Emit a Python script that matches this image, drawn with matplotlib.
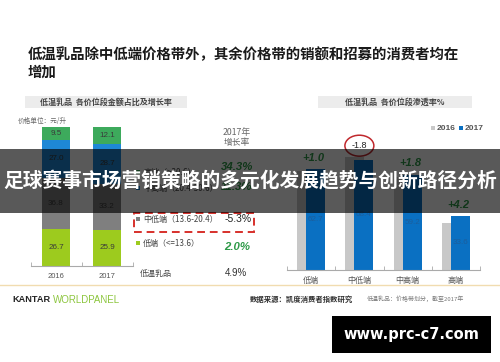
import matplotlib.pyplot as plt
from matplotlib.patches import Rectangle, Ellipse
from matplotlib.lines import Line2D
from matplotlib import transforms
import numpy as np

plt.rcParams['font.family'] = ['Noto Sans CJK SC', 'DejaVu Sans']

W, H = 500, 362

# left chart: share of sales by price band (bottom -> top)
years = ['2016', '2017']
share_2016 = [26.7, 36.8, 27.0, 9.5]
share_2017 = [25.9, 33.2, 28.7, 12.1]
tier_legend = ['低端（<=13.6）', '中低端（13.6-20.4）', '中高端（20.4-30.6）', '高端（>30.6）']
growth_2017 = ['2.0%', '-5.3%', '11.3%', '34.3%']
growth_total = '4.9%'

# right chart: penetration by price band
tiers = ['低端', '中低端', '中高端', '高端']
pen_2016 = [61.7, 70.2, 57.4, 29.4]
pen_2017 = [62.7, 68.4, 59.2, 33.6]
pen_change = ['+1.0', '-1.8', '+1.8', '+4.2']

tier_colors = ['#9dcb1e', '#7f7f7f', '#1e88d6', '#3daa5c']
green_txt = '#2e9a48'
latin = 'Liberation Sans'


def fx(x):
    return x / W


def fy(y):
    return 1 - y / H


def box(x0, y0, x1, y1, **kw):
    r = Rectangle((fx(x0), fy(y1)), (x1 - x0) / W, (y1 - y0) / H,
                  transform=fig.transFigure, **kw)
    fig.add_artist(r)
    return r


fig = plt.figure(figsize=(5, 3.62), dpi=100)
fig.patch.set_facecolor('white')

# headline
fig.text(fx(28), fy(55), '低温乳品除中低端价格带外，其余价格带的销额和招募的消费者均在',
         fontsize=10.4, fontweight='bold', va='center', color='#1a1a1a')
fig.text(fx(28), fy(73), '增加', fontsize=10.4, fontweight='bold', va='center', color='#1a1a1a')

# ---- left chart ----
box(25, 96, 187, 108, facecolor='#ececec', edgecolor='none')
fig.text(fx(106), fy(102), '低温乳品  各价位段金额占比及增长率', fontsize=5.8,
         fontweight='bold', color='#444', ha='center', va='center')
fig.text(fx(18), fy(121), '价格单位：元/升', fontsize=4.8, color='#666', va='center')

axl = fig.add_axes([fx(30.5), fy(266), 102 / W, 139 / H])
xl = np.arange(len(years))
bottom = np.zeros(len(years))
for i in range(4):
    vals = np.array([share_2016[i], share_2017[i]])
    axl.bar(xl, vals, bottom=bottom, width=0.55, color=tier_colors[i])
    for x, b, v in zip(xl, bottom, vals):
        axl.text(x, b + v / 2, f'{v:.1f}', ha='center', va='center',
                 fontsize=5.8, color='#3a3a3a', family=latin)
    bottom += vals
axl.set_xlim(-0.5, 1.5)
axl.set_ylim(0, 100)
for s in ['top', 'left', 'right']:
    axl.spines[s].set_visible(False)
axl.spines['bottom'].set_color('#aaaaaa')
axl.spines['bottom'].set_linewidth(0.8)
axl.set_yticks([])
axl.set_xticks(xl)
axl.set_xticklabels(years, fontsize=5.5, color='#555', family=latin)
axl.tick_params(axis='x', which='major', length=0, pad=5)
axl.set_xticks([-0.5, 0.5, 1.5], minor=True)
axl.tick_params(axis='x', which='minor', length=3, direction='in', color='#aaaaaa')
axl.patch.set_alpha(0)

# legend + growth column
fig.text(fx(237), fy(133), '2017年', fontsize=6.3, color='#666', ha='center', va='center')
fig.text(fx(237), fy(143), '增长率', fontsize=6.3, color='#666', ha='center', va='center')
leg_y = [243, 219, 188, 172]
gr_y = [247, 219, 187, 167]
for i in range(4):
    box(136, leg_y[i] - 2, 140, leg_y[i] + 2, facecolor=tier_colors[i], edgecolor='none')
    fig.text(fx(143), fy(leg_y[i]), tier_legend[i], fontsize=5.8, color='#444', va='center')
    if growth_2017[i].startswith('-'):
        fig.text(fx(238), fy(gr_y[i]), growth_2017[i], fontsize=7.5, color='#222',
                 ha='center', va='center', family=latin)
    else:
        fig.text(fx(237), fy(gr_y[i]), growth_2017[i], fontsize=8.2, color=green_txt,
                 ha='center', va='center', family=latin, fontweight='bold', style='italic')
box(134, 213, 254, 232, facecolor='none', edgecolor='#d7302b', linewidth=1.4,
    linestyle=(0, (4, 2.5)))
fig.text(fx(140), fy(273), '低温乳品', fontsize=5.8, color='#444', va='center')
fig.text(fx(236), fy(273), growth_total, fontsize=7, color='#333', ha='center',
         va='center', family=latin)

# ---- right chart ----
box(318, 96, 472, 108, facecolor='#ececec', edgecolor='none')
fig.text(fx(395), fy(102), '低温乳品  各价位段渗透率%', fontsize=5.8,
         fontweight='bold', color='#444', ha='center', va='center')
box(431, 126, 435, 130, facecolor='#c8c8c8', edgecolor='none')
fig.text(fx(437), fy(128), '2016', fontsize=6, color='#555', va='center',
         family=latin, fontweight='bold')
box(459, 126, 463, 130, facecolor='#0a70c2', edgecolor='none')
fig.text(fx(465), fy(128), '2017', fontsize=6, color='#555', va='center',
         family=latin, fontweight='bold')

axr = fig.add_axes([fx(287), fy(270), 193 / W, 129 / H])
xr = np.arange(len(tiers))
off, bw = 0.093, 0.393
axr.bar(xr - off, pen_2016, width=bw, color='#c8c8c8')
axr.bar(xr + off, pen_2017, width=bw, color='#0a70c2')
for x, v in zip(xr, pen_2017):
    axr.text(x + off, v / 2, f'{v:.1f}', ha='center', va='center', fontsize=5.8,
             color='#1c5e9c', family=latin)
for x, a, b, lab in zip(xr, pen_2016, pen_2017, pen_change):
    top = max(a, b)
    if lab.startswith('-'):
        axr.annotate(lab, (x, top), xytext=(0, 8), textcoords='offset points',
                     ha='center', va='center', fontsize=6.5, color='#222',
                     family=latin, annotation_clip=False)
        tr = transforms.offset_copy(axr.transData, fig=fig, x=0, y=8, units='points')
        axr.add_patch(Ellipse((x, top), 0.6, 13, transform=tr, fill=False,
                              edgecolor='#c0282d', linewidth=1.1, clip_on=False))
    else:
        axr.annotate(lab, (x + 0.05, top), xytext=(0, 8), textcoords='offset points',
                     ha='center', va='center', fontsize=8, color=green_txt,
                     family=latin, fontweight='bold', style='italic',
                     annotation_clip=False)
axr.set_xlim(-0.5, 3.5)
axr.set_ylim(0, 80)
for s in ['top', 'left', 'right']:
    axr.spines[s].set_visible(False)
axr.spines['bottom'].set_color('#aaaaaa')
axr.spines['bottom'].set_linewidth(0.8)
axr.set_yticks([])
axr.set_xticks(xr)
axr.set_xticklabels(tiers, fontsize=5.8, color='#555')
axr.tick_params(axis='x', which='major', length=0, pad=4)
axr.set_xticks(np.arange(-0.5, 4, 1), minor=True)
axr.tick_params(axis='x', which='minor', length=3, direction='in', color='#aaaaaa')
axr.patch.set_alpha(0)

# ---- footer ----
fig.add_artist(Line2D([0, 1], [fy(285), fy(285)], transform=fig.transFigure,
                      color='#f1dcb0', linewidth=1))
fig.text(fx(12), fy(300), 'KANTAR', fontsize=6.6, fontweight='bold', color='#222',
         va='center', family=latin)
fig.text(fx(53), fy(300), 'WORLDPANEL', fontsize=7, color='#8dc63f', va='center',
         family=latin)
fig.text(fx(250), fy(299), '数据来源：凯度消费者指数研究', fontsize=5.3, fontweight='bold',
         color='#333', va='center')
fig.text(fx(367), fy(299), '低温乳品：价格带划分，截至2017年', fontsize=4.3,
         color='#777', va='center')

# overlay banner
box(0, 149, 500, 213, facecolor='black', edgecolor='none', alpha=0.65, zorder=20)
fig.text(fx(250), fy(181), '足球赛事市场营销策略的多元化发展趋势与创新路径分析',
         fontsize=14.2, fontweight='bold', color='white', ha='center', va='center',
         zorder=21)

# watermark
box(332, 316, 491, 353, facecolor='black', edgecolor='none', zorder=20)
fig.text(fx(411.5), fy(334.5), 'www.prc-c7.com', fontsize=10.5, fontweight='bold',
         color='white', ha='center', va='center', family='DejaVu Sans', zorder=21)

fig.savefig('out.png', dpi=100)
